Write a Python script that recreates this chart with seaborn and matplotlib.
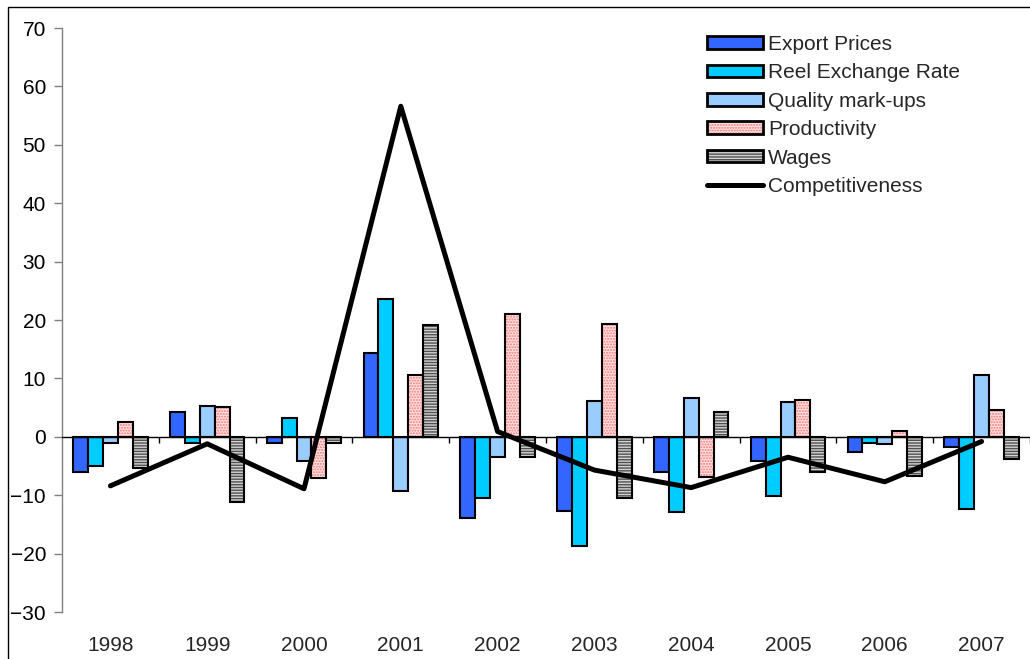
import numpy as np
import pandas as pd
import matplotlib
matplotlib.use("Agg")
import matplotlib.pyplot as plt
from matplotlib.patches import Patch, Rectangle
from matplotlib.lines import Line2D
from matplotlib.legend_handler import HandlerTuple
import seaborn as sns

# ---- data -------------------------------------------------------------
years = ["1998", "1999", "2000", "2001", "2002", "2003", "2004", "2005", "2006", "2007"]
export_prices = [-6.1, 4.2, -1.0, 14.3, -13.9, -12.7, -6.1, -4.1, -2.6, -1.8]
reel_exchange_rate = [-5.0, -1.0, 3.3, 23.6, -10.4, -18.7, -12.9, -10.2, -1.1, -12.3]
quality_markups = [-1.1, 5.3, -4.2, -9.3, -3.5, 6.1, 6.6, 6.0, -1.3, 10.5]
productivity = [2.6, 5.1, -7.1, 10.6, 21.1, 19.3, -6.8, 6.3, 1.0, 4.6]
wages = [-5.3, -11.1, -1.0, 19.2, -3.4, -10.5, 4.2, -6.1, -6.7, -3.8]
competitiveness = [-8.4, -1.2, -8.9, 56.6, 0.9, -5.7, -8.7, -3.5, -7.7, -0.8]

series_names = ["Export Prices", "Reel Exchange Rate", "Quality mark-ups",
                "Productivity", "Wages"]
series_values = [export_prices, reel_exchange_rate, quality_markups,
                 productivity, wages]
line_name = "Competitiveness"

# ---- styling ----------------------------------------------------------
face = {"Export Prices": "#3366FF", "Reel Exchange Rate": "#00CCFF",
        "Quality mark-ups": "#99CCFF", "Productivity": "#FFE2E2",
        "Wages": "#D2D2D2"}
hatch = {"Productivity": ("......", "#F07878"), "Wages": ("------", "#505050")}
edge_lw = 1.5
line_lw = 3.6

sns.set_theme(style="white")
plt.rcParams["font.family"] = ["Liberation Sans", "DejaVu Sans"]
plt.rcParams["hatch.linewidth"] = 1.0

df = pd.DataFrame(
    [(y, name, v) for name, vals in zip(series_names, series_values)
     for y, v in zip(years, vals)],
    columns=["year", "series", "value"],
)

fig = plt.figure(figsize=(10.30, 6.59), dpi=100)
ax = fig.add_axes([62 / 1030, 1 - 612 / 659, 1 - 62 / 1030, (612 - 28) / 659])

sns.barplot(data=df, x="year", y="value", hue="series", order=years,
            hue_order=series_names, palette=face, width=0.77, saturation=1,
            edgecolor="black", linewidth=edge_lw, legend=False, ax=ax, zorder=2)

# bars come out grouped by hue level, one per category
bars = list(ax.patches)
for i, name in enumerate(series_names):
    for p in bars[i * len(years):(i + 1) * len(years)]:
        if name in hatch:
            h, hc = hatch[name]
            p.set_hatch(h)
            p.set_edgecolor(hc)
            p.set_linewidth(0)
            ax.add_patch(Rectangle(p.get_xy(), p.get_width(), p.get_height(),
                                   fill=False, edgecolor="black",
                                   linewidth=edge_lw, zorder=2.5))

sns.lineplot(x=np.arange(len(years)), y=competitiveness, color="black",
             linewidth=line_lw, ax=ax, zorder=4, legend=False)

# ---- axes -------------------------------------------------------------
ax.set_ylim(-30, 70)
ax.set_xlim(-0.5, 9.378)
ax.set_yticks(np.arange(-30, 71, 10))
ax.set_xlabel("")
ax.set_ylabel("")
for s in ("top", "right"):
    ax.spines[s].set_visible(False)
ax.spines["left"].set_color("#808080")
ax.spines["left"].set_linewidth(1.0)
ax.spines["bottom"].set_position(("data", 0))
ax.spines["bottom"].set_color("black")
ax.spines["bottom"].set_linewidth(1.0)
ax.spines["bottom"].set_zorder(3)
ax.tick_params(axis="y", which="major", direction="out", length=5.5, width=1,
               color="#808080", labelsize=15, labelcolor="black", pad=6, left=True)
ax.set_xticks(np.arange(len(years)))
ax.set_xticks(np.arange(len(years)) + 0.5, minor=True)
ax.tick_params(axis="x", which="major", length=0, labelbottom=False)
ax.tick_params(axis="x", which="minor", direction="out", length=4.5, width=1,
               color="black", bottom=True)

sec = ax.secondary_xaxis(0)
sec.set_xticks(np.arange(len(years)), labels=years)
sec.tick_params(length=0, labelsize=15, pad=17)
sec.spines["bottom"].set_visible(False)

# ---- legend -----------------------------------------------------------
handles = []
for name in series_names:
    if name in hatch:
        h, hc = hatch[name]
        handles.append((Patch(facecolor=face[name], edgecolor=hc, hatch=h, linewidth=0),
                        Patch(fill=False, edgecolor="black", linewidth=2.0)))
    else:
        handles.append(Patch(facecolor=face[name], edgecolor="black", linewidth=2.0))
handles.append(Line2D([], [], color="black", linewidth=line_lw))
labels = series_names + [line_name]
ax.legend(handles, labels, handler_map={tuple: HandlerTuple(ndivide=1, pad=0)},
          loc="upper left", bbox_to_anchor=(707 / 1030, 1 - 35 / 659),
          bbox_transform=fig.transFigure, frameon=False, fontsize=15,
          handlelength=2.7, handleheight=0.56, handletextpad=0.24,
          labelspacing=0.45, borderpad=0, borderaxespad=0)

# ---- outer frame ------------------------------------------------------
fig.patches.append(Rectangle((7.5 / 1030, -0.1), 1.2, 1.1 - 6.5 / 659,
                             transform=fig.transFigure, fill=False,
                             edgecolor="black", linewidth=1.0))

fig.savefig("out.png", dpi=100)
